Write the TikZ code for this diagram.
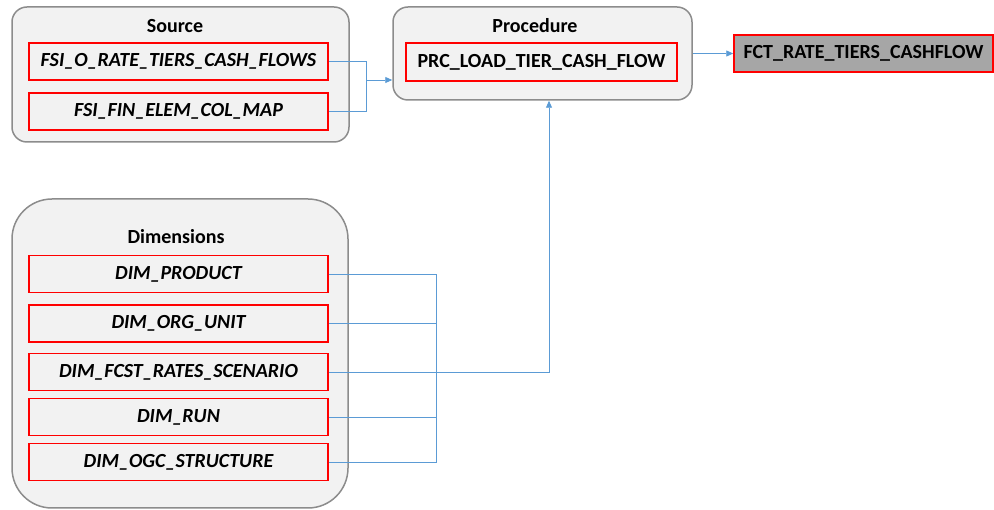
\documentclass[tikz,border=0pt]{standalone}
\usepackage{fontspec}
\setmainfont{Carlito}
\usetikzlibrary{arrows.meta}
\definecolor{boxgray}{HTML}{F2F2F2}
\definecolor{framegray}{HTML}{8C8C8C}
\definecolor{linkblue}{HTML}{5B9BD5}
\definecolor{targetgray}{HTML}{A6A6A6}
\tikzset{
  group/.style={draw=framegray, fill=boxgray, line width=1.5pt, rounded corners=15pt, inner sep=0pt},
  table/.style={draw=red, fill=boxgray, line width=1.5pt, minimum width=299pt, minimum height=37pt,
    inner sep=0pt, font=\fontsize{20}{24}\selectfont\bfseries\itshape},
  grouptitle/.style={font=\fontsize{20}{24}\selectfont\bfseries},
  link/.style={draw=linkblue, line width=0.9pt},
  linkarrow/.style={link, -{Triangle[length=7pt,width=6pt]}},
}
\begin{document}
\begin{tikzpicture}[x=1pt,y=-1pt]
\useasboundingbox (0,0) rectangle (994,510);

% groups
\node[group, minimum width=337pt, minimum height=135pt] (source) at (180.5,74.5) {};
\node[group, minimum width=299pt, minimum height=93pt] (procedure) at (542.5,53.5) {};
\node[group, rounded corners=40pt, minimum width=336pt, minimum height=309pt] (dimensions) at (180,353.5) {};

\node[grouptitle] (sourcetitle) at (175,26) {Source};
\node[grouptitle] (proctitle) at (535,26) {Procedure};
\node[grouptitle] (dimtitle) at (176,237) {Dimensions};

% tables
\begin{scope}[every node/.style={table}]
\node (fsio) at (178.5,61.5) {FSI\_O\_RATE\_TIERS\_CASH\_FLOWS};
\node (fsifin) at (178.5,111.5) {FSI\_FIN\_ELEM\_COL\_MAP};
\node[font=\fontsize{20}{24}\selectfont\bfseries, minimum width=271pt, minimum height=38pt] (prc) at (541.5,62) {PRC\_LOAD\_TIER\_CASH\_FLOW};
\node[fill=targetgray, font=\fontsize{20}{24}\selectfont\bfseries, minimum width=259pt] (fct) at (863.5,53.5) {FCT\_RATE\_TIERS\_CASHFLOW};
\node (dimprod) at (178.5,274) {DIM\_PRODUCT};
\node (dimorg) at (178.5,323.5) {DIM\_ORG\_UNIT};
\node (dimfcst) at (178.5,372) {DIM\_FCST\_RATES\_SCENARIO};
\node (dimrun) at (178.5,417) {DIM\_RUN};
\node (dimogc) at (178.5,462) {DIM\_OGC\_STRUCTURE};
\end{scope}

% connectors
\coordinate (srcjoin) at (366,80);
\coordinate (dimbus) at (436,372);
\coordinate (dimup) at (549,372);

\draw[link] (fsio.east) -| (srcjoin);
\draw[link] (fsifin.east) -| (srcjoin);
\draw[linkarrow] (srcjoin) -- (srcjoin -| procedure.west);
\draw[linkarrow] (procedure.east) -- (fct.west);

\draw[link] (dimprod.east) -| (dimbus);
\draw[link] (dimorg.east) -| (dimbus);
\draw[link] (dimfcst.east) -- (dimbus);
\draw[link] (dimrun.east) -| (dimbus);
\draw[link] (dimogc.east) -| (dimbus);
\draw[linkarrow] (dimbus) -- (dimup) -- (dimup |- procedure.south);
\end{tikzpicture}
\end{document}
